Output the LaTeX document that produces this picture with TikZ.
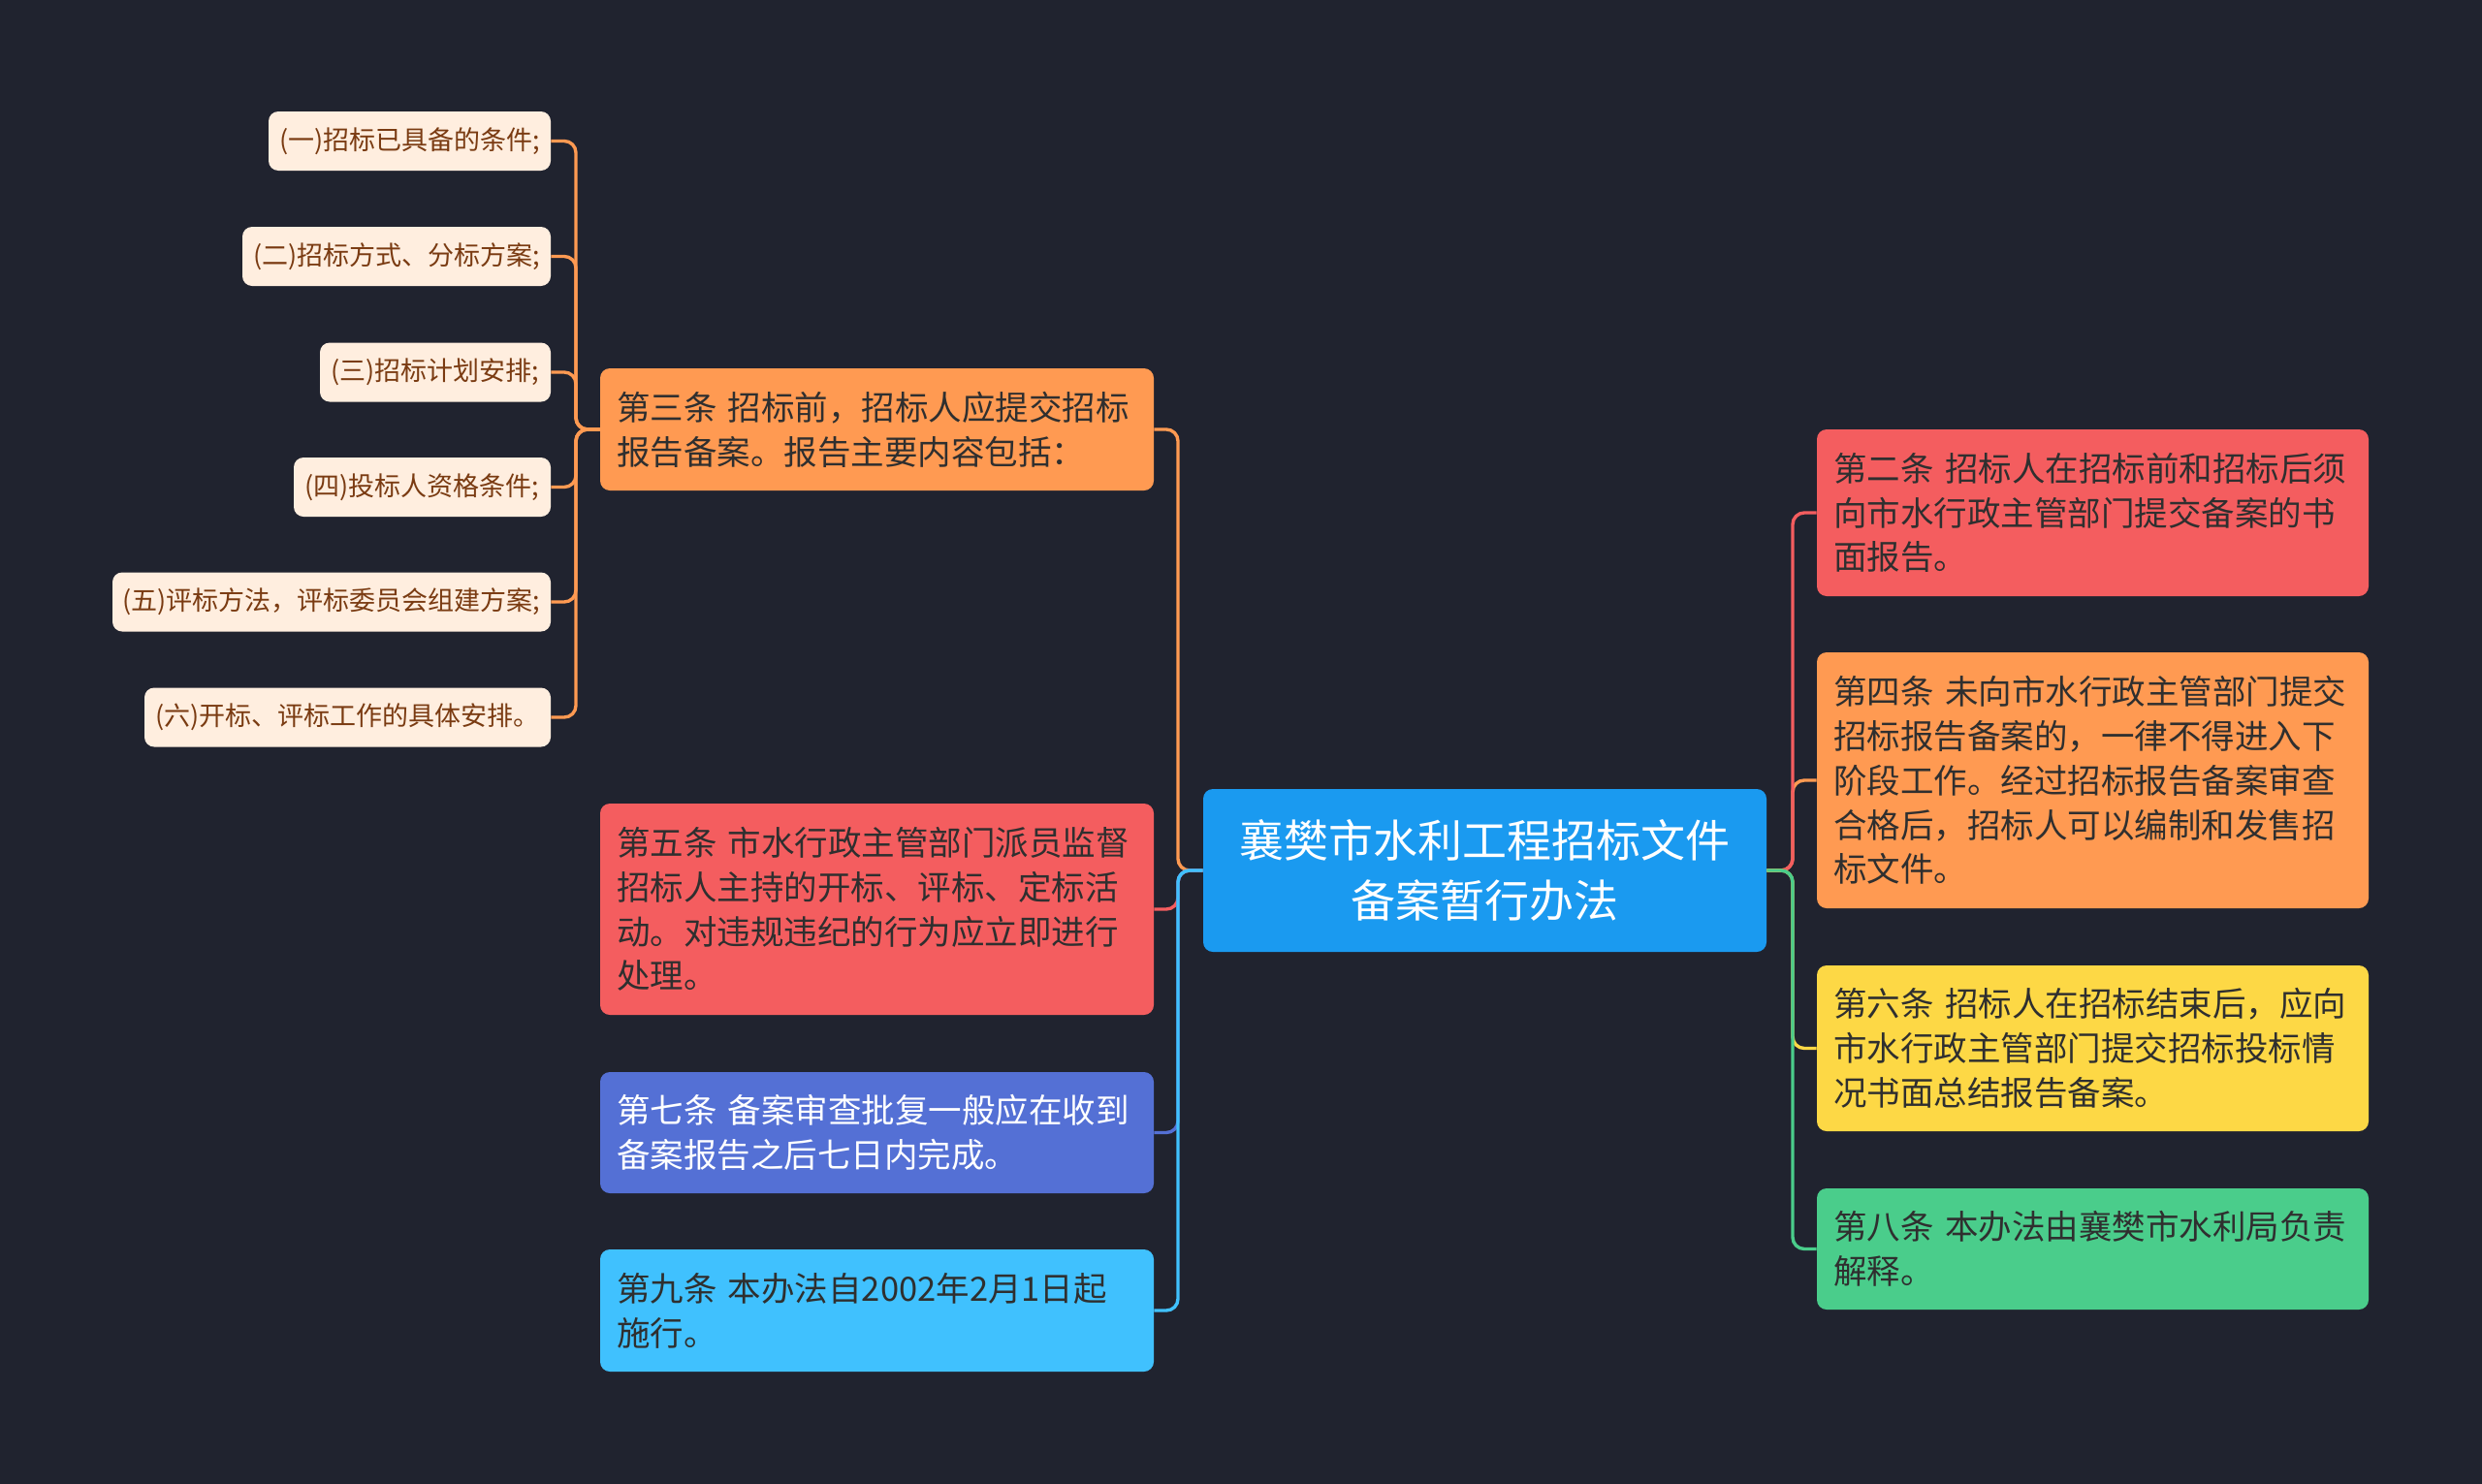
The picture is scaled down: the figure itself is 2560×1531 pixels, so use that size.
\documentclass[tikz,border=0pt]{standalone}
\usepackage{fontspec}
\newfontfamily\cjk{Noto Sans CJK SC}
\definecolor{bg}{HTML}{20232F}
\definecolor{cRoot}{HTML}{1A9AF0}
\definecolor{cRed}{HTML}{F45D5F}
\definecolor{cOrange}{HTML}{FF9A52}
\definecolor{cYellow}{HTML}{FDD845}
\definecolor{cGreen}{HTML}{4ACD8B}
\definecolor{cPurple}{HTML}{5470D5}
\definecolor{cLight}{HTML}{40C1FE}
\definecolor{cCream}{HTML}{FFEEDF}
\definecolor{textdark}{HTML}{2F2F2F}
\definecolor{subtext}{HTML}{7A3B12}
\begin{document}
\begin{tikzpicture}[x=0.5pt,y=-0.5pt,
  box/.style={rounded corners=5pt, inner sep=0pt, align=left,
    font=\cjk\fontsize{17.25}{22.9}\selectfont, text=textdark},
  lbox/.style={box, minimum width=285.5pt, text width=268.5pt},
  rbox/.style={box, minimum width=284.5pt, text width=267.5pt},
  rootbox/.style={rounded corners=5pt, inner sep=0pt, align=center, fill=cRoot,
    minimum width=290.5pt, minimum height=84pt, text width=280pt,
    font=\cjk\fontsize{23}{31}\selectfont, text=white},
  subbox/.style={rounded corners=5pt, inner sep=0pt, align=center, fill=cCream,
    minimum height=30.5pt, font=\cjk\fontsize{13.5}{17}\selectfont, text=subtext},
  conn/.style={draw=#1, line width=1.7pt, rounded corners=6pt}
]
\fill[bg] (0,0) rectangle (2560,1531);
\useasboundingbox (0,0) rectangle (2560,1531);

% root
\node[rootbox] (root) at (1531.5,898) {襄樊市水利工程招标文件\\备案暂行办法};

% right branches
\node[rbox, fill=cRed, minimum height=86pt] (r2) at (2158.5,529)
  {第二条 招标人在招标前和招标后须\\向市水行政主管部门提交备案的书\\面报告。};
\node[rbox, fill=cOrange, minimum height=132pt] (r4) at (2158.5,805)
  {第四条 未向市水行政主管部门提交\\招标报告备案的，一律不得进入下\\阶段工作。经过招标报告备案审查\\合格后，招标人可以编制和发售招\\标文件。};
\node[rbox, fill=cYellow, minimum height=85.5pt] (r6) at (2158.5,1081.5)
  {第六条 招标人在招标结束后，应向\\市水行政主管部门提交招标投标情\\况书面总结报告备案。};
\node[rbox, fill=cGreen, minimum height=62.5pt] (r8) at (2158.5,1288.5)
  {第八条 本办法由襄樊市水利局负责\\解释。};

% left branches
\node[lbox, fill=cOrange, minimum height=63pt] (l3) at (904.5,443)
  {第三条 招标前，招标人应提交招标\\报告备案。报告主要内容包括：};
\node[lbox, fill=cRed, minimum height=109pt] (l5) at (904.5,938)
  {第五条 市水行政主管部门派员监督\\招标人主持的开标、评标、定标活\\动。对违规违纪的行为应立即进行\\处理。};
\node[lbox, fill=cPurple, minimum height=62.5pt, text=white] (l7) at (904.5,1168.5)
  {第七条 备案审查批复一般应在收到\\备案报告之后七日内完成。};
\node[lbox, fill=cLight, minimum height=63pt] (l9) at (904.5,1352)
  {第九条 本办法自2002年2月1日起\\施行。};

% sub items of l3
\node[subbox, minimum width=145.5pt] (s1) at (422.5,145.5) {(一)招标已具备的条件;};
\node[subbox, minimum width=159pt] (s2) at (409,264.5) {(二)招标方式、分标方案;};
\node[subbox, minimum width=119pt] (s3) at (449,384) {(三)招标计划安排;};
\node[subbox, minimum width=132.5pt] (s4) at (435.5,502.5) {(四)投标人资格条件;};
\node[subbox, minimum width=226pt] (s5) at (342,621) {(五)评标方法，评标委员会组建方案;};
\node[subbox, minimum width=209.5pt] (s6) at (358.5,740) {(六)开标、评标工作的具体安排。};

% junction coordinates
\coordinate (jr) at (1849,898);
\coordinate (jl) at (1215,898);
\coordinate (js) at (594,443);

% connectors right
\draw[conn=cOrange] (root.east) -- (jr) |- (r4.west);
\draw[conn=cRed] (root.east) -- (jr) |- (r2.west);
\draw[conn=cYellow] (root.east) -- (jr) |- (r6.west);
\draw[conn=cGreen] (root.east) -- (jr) |- (r8.west);

% connectors left
\draw[conn=cRed] (root.west) -- (jl) |- (l5.east);
\draw[conn=cOrange] (root.west) -- (jl) |- (l3.east);
\draw[conn=cPurple] (root.west) -- (jl) |- (l7.east);
\draw[conn=cLight] (root.west) -- (jl) |- (l9.east);

% connectors sub
\draw[conn=cOrange] (l3.west) -- (js) |- (s1.east);
\draw[conn=cOrange] (l3.west) -- (js) |- (s2.east);
\draw[conn=cOrange] (l3.west) -- (js) |- (s3.east);
\draw[conn=cOrange] (l3.west) -- (js) |- (s4.east);
\draw[conn=cOrange] (l3.west) -- (js) |- (s5.east);
\draw[conn=cOrange] (l3.west) -- (js) |- (s6.east);
\end{tikzpicture}
\end{document}
